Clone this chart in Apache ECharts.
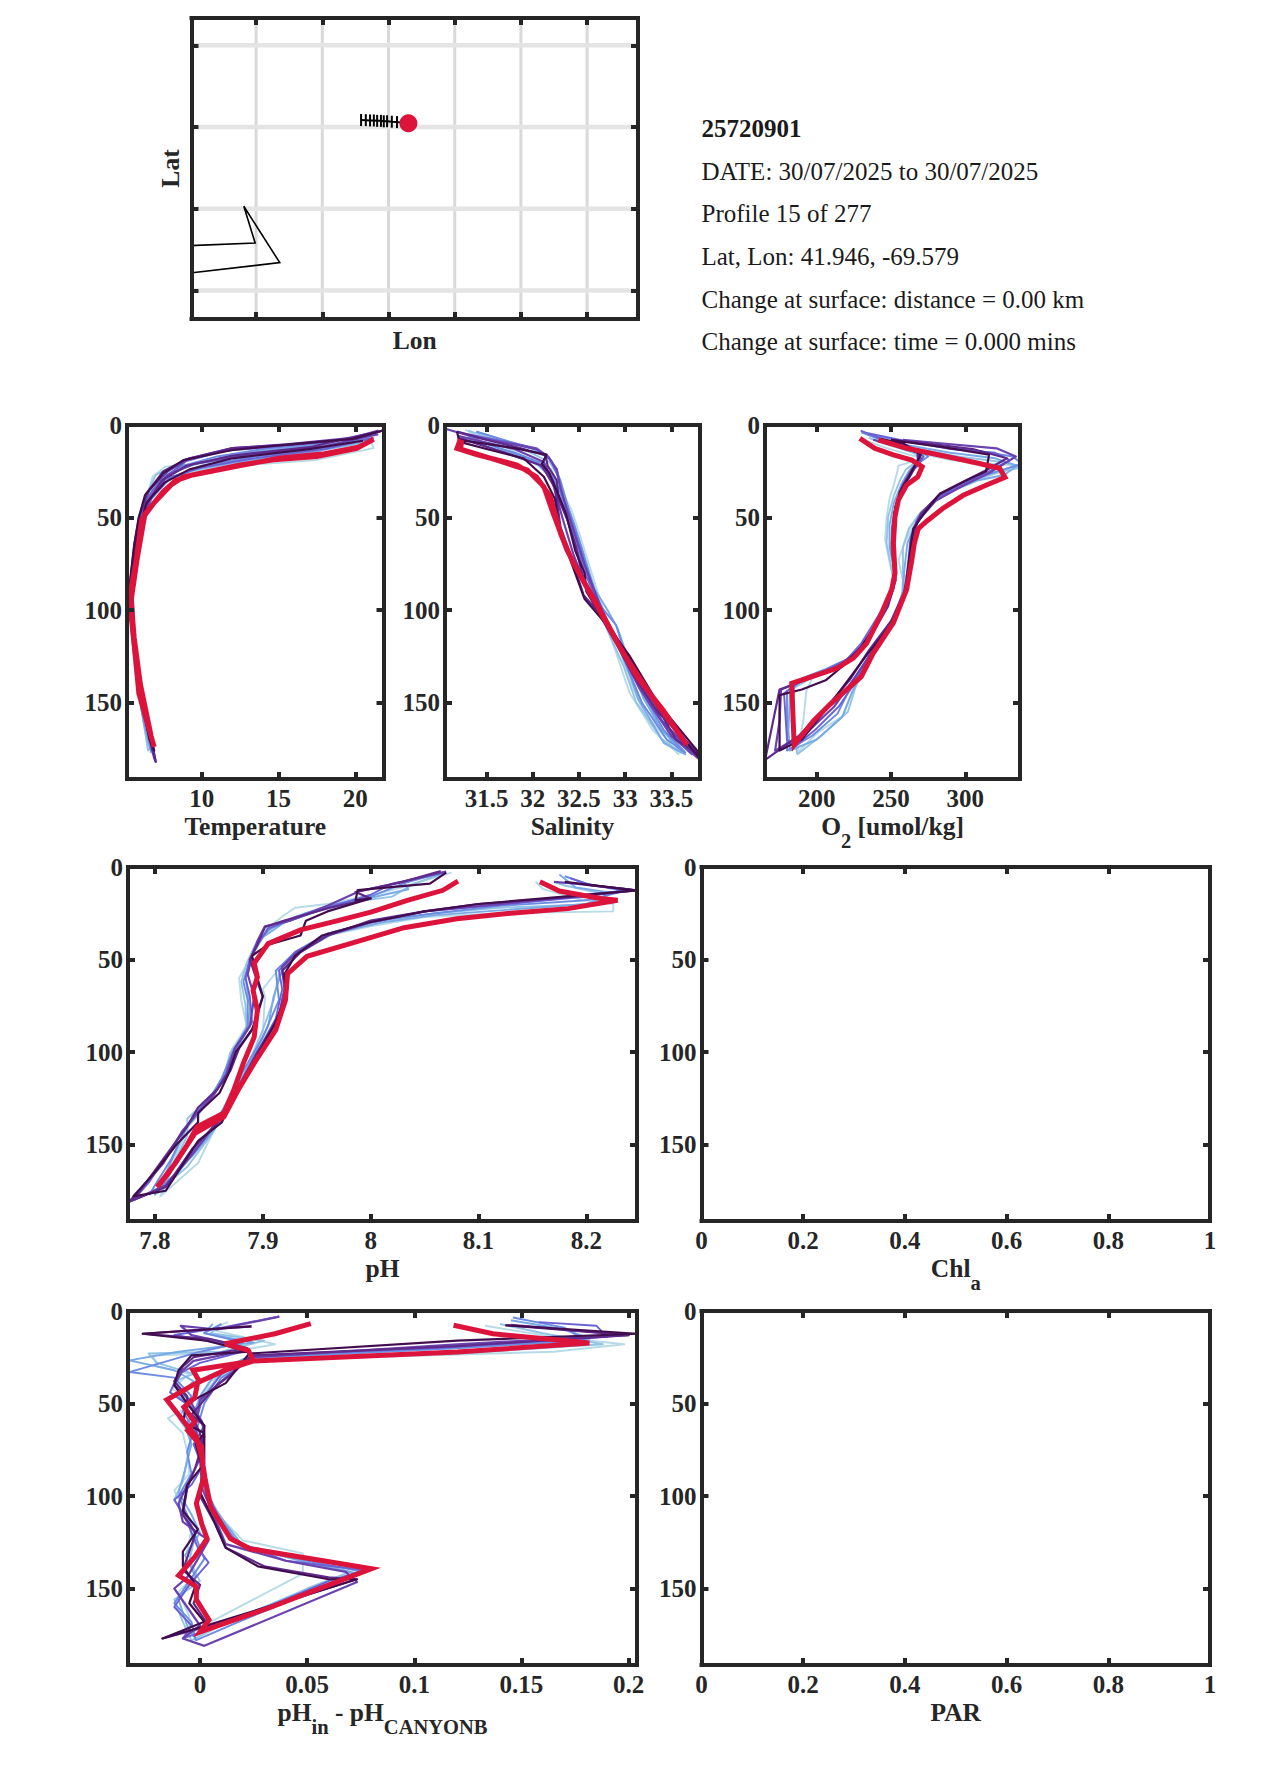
<!DOCTYPE html>
<html><head><meta charset="utf-8">
<style>html,body{margin:0;padding:0;background:#fff}#c{width:1275px;height:1771px}</style>
<script src="https://cdn.jsdelivr.net/npm/echarts@6/dist/echarts.min.js"></script></head>
<body><div id="c"></div>
<script>
// ---------- labels ----------
const infoLines = ["25720901","DATE: 30/07/2025 to 30/07/2025","Profile 15 of 277","Lat, Lon: 41.946, -69.579","Change at surface: distance = 0.00 km","Change at surface: time = 0.000 mins"];
const depthTicks = [0,50,100,150];
const tempTicks = [10,15,20];
const salTicks = [31.5,32,32.5,33,33.5];
const o2Ticks = [200,250,300];
const phTicks = [7.8,7.9,8,8.1,8.2];
const dphTicks = [0,0.05,0.1,0.15,0.2];
const unitTicks = [0,0.2,0.4,0.6,0.8,1];
const profileColors = ["#b7dbe6","#93c4e6","#79aae6","#6c8ce2","#6a62d4","#6a42ae","#5f2a8c","#420d4f"];
const lastColor = "#dc143c";
// ---------- map ----------
const gridLon = [-72.8,-71.4,-70,-68.6,-67.2,-65.8];
const gridLat = [42.9,41.9,40.9,39.9];
const coastLon = [-75,-72.82,-73.06,-72.3,-75];
const coastLat = [40.43,40.48,40.93,40.24,40.06];
const trackLon = [-70.58,-70.48,-70.39,-70.31,-70.24,-70.16,-70.1,-70.03,-69.93,-69.82,-69.69,-69.579];
const trackLat = [41.985,41.984,41.98,41.98,41.975,41.975,41.97,41.97,41.965,41.96,41.95,41.946];
// ---------- temperature [value, depth] ----------
const tempP1=[[20.9,7],[21.2,12.5],[17.4,19],[12.8,21.8],[9.4,25],[7.6,30],[6.6,38],[6,50],[5.6,75],[5.3,95],[5.4,110],[5.6,130],[6,150],[6.6,175],[6.3,165],[5.8,135],[5.4,105],[5.5,85],[5.9,62],[6.3,42],[6.8,28],[7.6,22.5],[9.5,21],[13,16],[17,12.5],[20.9,7]];
const tempP2=[[20.7,6],[18,11],[14,15],[10.5,20],[8,23],[7,27],[6.5,36],[6,50],[5.6,72],[5.3,96],[5.5,115],[5.7,135],[6.1,155],[6.5,176],[6.8,172],[5.9,140],[5.5,110],[5.5,88],[6,60],[6.5,42],[7.3,31],[9,25],[12,21],[16,16],[20.4,10]];
const tempP3=[[20.6,6],[17,11],[13,15],[10,20],[8.2,25],[7.2,31],[6.4,41],[5.9,52],[5.6,75],[5.3,95],[5.5,118],[5.8,140],[6.2,160],[6.7,177],[6.4,165],[5.9,143],[5.6,120],[5.5,90],[6,58],[6.7,40],[7.6,30],[9.5,24],[13,19],[17,15],[20.5,9]];
const tempP4=[[21,5],[18,9.5],[14,13],[11,17],[8.8,22],[7.5,28],[6.6,38],[6.1,49],[5.7,70],[5.3,92],[5.4,110],[5.7,132],[6.1,155],[6.7,176],[6.9,176],[6,145],[5.5,110],[5.5,86],[5.9,60],[6.6,41],[7.8,30],[10,22],[13.5,17],[17.5,13],[21,7]];
const tempP5=[[21.2,4],[19,8],[15,11.5],[11.5,14],[9,19.5],[7.8,27],[6.8,35],[6.2,45],[5.7,68],[5.3,92],[5.4,108],[5.7,130],[6.1,152],[6.8,176],[6.9,178],[6.1,147],[5.6,115],[5.5,88],[5.9,58],[6.8,38],[8,28],[10,23],[13,18.5],[18,13],[21.2,7]];
const tempP6=[[21.5,3],[19.8,7],[15.5,10.5],[12,12.5],[9.2,18],[7.8,25],[6.6,35],[6,48],[5.6,68],[5.3,90],[5.4,108],[5.7,130],[6.2,155],[6.9,178],[7,182],[6.2,150],[5.6,118],[5.5,90],[5.9,58],[6.6,40],[7.8,27],[9.5,21],[13,16],[18,11.5],[21.5,5]];
const tempP7=[[21.8,3],[20,7.5],[16,10.5],[12,12.5],[9,18.5],[7.5,25],[6.4,37],[5.9,50],[5.6,65],[5.3,88],[5.4,106],[5.7,130],[6.2,155],[6.9,180],[7,182],[6.2,150],[5.6,115],[5.4,92],[5.7,70],[6.3,44],[7.4,30],[9,22],[12,16.5],[17,12],[21.8,3]];
const tempP8=[[21.8,3],[19.8,7.5],[15,11],[12,13.5],[8.8,19],[7.5,26],[6.3,38],[5.9,50],[5.6,65],[5.25,90],[5.4,106],[5.7,130],[6.2,155],[6.9,176],[6.6,170],[5.9,140],[5.4,100],[5.4,85],[5.8,62],[6.4,42],[7.6,31],[9.2,24],[12,18],[17,13],[20.5,8.5]];
const tempLast=[[21.2,7.7],[20.1,12.6],[17.5,17],[14.7,18.8],[12.5,21.6],[9.9,26],[8.8,28],[8,32.4],[6.9,42],[6.1,51],[5.7,74.6],[5.3,92.5],[5.4,103],[5.7,127],[5.9,145],[6.9,174],[6.7,168],[6,140],[5.6,115],[5.4,95],[5.8,72],[6.3,48],[7.5,36],[8.3,30],[9.4,27],[12.6,21.8],[15,18],[18,15.5],[20.2,12],[21.2,7.7]];
// ---------- salinity ----------
const salP1=[[31.27,2.5],[31.4,6],[31.7,12],[32,19],[32.2,24],[32.3,34],[32.42,46],[32.5,58],[32.6,74],[32.7,90],[32.78,102],[32.95,122],[33.02,135],[33.2,155],[33.58,178],[33.3,165],[33.05,145],[32.88,120],[32.7,96],[32.6,80],[32.48,62],[32.38,45],[32.26,30],[32,20],[31.7,15],[31.3,8]];
const salP2=[[31.3,3],[31.6,8],[31.9,13],[32.18,20],[32.28,28],[32.36,42],[32.46,55],[32.56,72],[32.68,90],[32.8,105],[32.92,118],[33.02,132],[33.2,152],[33.6,177],[33.4,170],[33.12,150],[32.98,130],[32.8,110],[32.65,88],[32.52,70],[32.42,55],[32.34,40],[32.22,28],[32,19],[31.6,12],[31.3,6]];
const salP3=[[31.39,3.6],[31.6,7],[32,13],[32.18,18],[32.26,24],[32.32,36],[32.42,50],[32.54,68],[32.66,88],[32.82,101],[32.92,110],[33.03,126],[33.2,148],[33.4,165],[33.65,178],[33.42,172],[33.14,148],[33,128],[32.8,105],[32.66,90],[32.5,68],[32.4,52],[32.3,36],[32.1,22],[31.7,14],[31.39,8]];
const salP4=[[31.39,3.6],[31.75,9],[32.04,13],[32.2,19],[32.3,30],[32.38,44],[32.5,62],[32.62,82],[32.72,97],[32.9,108],[33,124],[33.2,146],[33.42,165],[33.65,177],[33.45,170],[33.18,150],[33,128],[32.82,108],[32.65,88],[32.48,68],[32.38,50],[32.28,34],[32.12,21],[31.8,15],[31.3,7]];
const salP5=[[31.2,4],[31.6,8],[32.04,12.5],[32.17,17],[32.26,26],[32.32,38],[32.42,52],[32.52,68],[32.63,86],[32.74,98],[32.88,115],[33.05,132],[33.25,150],[33.5,168],[33.72,178],[33.4,160],[33.16,138],[32.96,120],[32.76,102],[32.58,82],[32.46,65],[32.34,46],[32.22,30],[32.06,21],[31.7,15],[31.22,7]];
const salP6=[[31.07,2.3],[31.4,7],[31.8,10.5],[32.04,13],[32.17,17.5],[32.26,24],[32.3,34],[32.37,46],[32.46,60],[32.55,74],[32.67,90],[32.76,102],[32.95,122],[33.15,142],[33.4,160],[33.81,181],[33.5,168],[33.2,145],[32.98,122],[32.76,102],[32.58,88],[32.44,70],[32.32,50],[32.22,32],[32.12,20],[31.8,13],[31.2,6]];
const salP7=[[31.18,3.5],[31.5,8],[31.9,13],[32.14,16.5],[32.16,22],[32.26,30],[32.28,40],[32.38,52],[32.47,66],[32.52,78],[32.6,90],[32.74,104],[32.9,118],[33.1,136],[33.35,155],[33.8,178],[33.55,170],[33.2,140],[33,122],[32.78,105],[32.55,92],[32.42,72],[32.3,55],[32.24,34],[32.1,22],[31.7,15],[31.2,7]];
const salP8=[[31.18,3.5],[31.2,8],[31.8,12.5],[32.15,16],[32.1,21],[32.18,26],[32.28,38],[32.36,48],[32.46,68],[32.56,80],[32.58,90],[32.7,100],[32.85,112],[33,125],[33.2,138],[33.4,155],[33.8,180],[33.78,176],[33.35,150],[33.05,125],[32.8,108],[32.56,94],[32.4,72],[32.3,60],[32.24,40],[32.12,28],[31.9,18],[31.5,13],[31.2,9]];
const salLast=[[31.215,7.7],[31.18,12.6],[31.4,16.2],[31.83,21.6],[32.04,28],[32.19,38.7],[32.3,58.6],[32.44,74.8],[32.69,96.4],[32.98,123.4],[33.34,150.5],[33.67,173],[33.41,154],[33.125,136],[32.84,110.8],[32.58,87.4],[32.37,67.6],[32.22,47.7],[32.12,33.3],[31.94,24.3],[31.61,19],[31.22,13],[31.23,8.1]];
// ---------- oxygen ----------
const o2P1=[[232,8],[245,12],[262,16],[272,18],[255,22],[254,26],[252,32],[249,40],[247,50],[246,62],[249,74],[252,84],[248,94],[240,106],[232,118],[222,127],[210,132],[197,137],[193,144],[191,160],[187,177],[201,166],[218,157],[223,146],[231,133],[238,124],[250,108],[257,95],[258,84],[255,73],[259,64],[263,57],[270,48],[282,40],[300,32],[318,27],[336,22],[320,21],[290,19],[262,14],[240,9]];
const o2P2=[[235,7],[250,11],[265,15],[270,18],[260,24],[256,30],[252,38],[248,50],[247,64],[250,76],[252,86],[246,100],[236,114],[226,125],[212,132],[198,136],[185,142],[183,160],[187,178],[203,168],[221,155],[226,142],[233,130],[243,118],[254,102],[258,90],[258,78],[258,66],[262,56],[270,47],[284,38],[302,31],[320,26],[337,23],[325,20],[295,17],[262,12],[238,8]];
const o2P3=[[240,6],[255,11],[272,15],[268,19],[262,25],[257,32],[252,42],[249,54],[249,66],[252,78],[252,88],[245,102],[235,116],[223,127],[205,133],[190,138],[182,144],[181,165],[182,176],[200,170],[217,158],[224,144],[232,130],[242,118],[252,104],[258,90],[259,78],[261,64],[266,54],[276,43],[290,36],[308,30],[326,27],[335,22],[320,18],[290,15],[262,11],[240,7]];
const o2P4=[[230,4],[250,10],[270,14],[275,17],[266,22],[260,30],[255,40],[251,52],[250,66],[252,78],[252,88],[244,102],[233,116],[222,126],[206,132],[190,137],[180,144],[180,162],[180,176],[197,168],[214,156],[222,143],[230,132],[240,120],[251,106],[259,92],[261,78],[263,62],[268,50],[280,40],[296,33],[314,27],[338,21],[332,17],[300,13],[268,10],[240,6]];
const o2P5=[[229.6,3],[248,9],[265,14],[272,17],[268,22],[262,27],[257,34],[253,44],[251,56],[251,70],[253,82],[250,92],[240,105],[230,118],[220,127],[205,133],[188,139],[178,145],[180,170],[185,174],[200,164],[215,152],[226,139],[235,125],[245,112],[255,100],[261,86],[263,70],[267,52],[280,40],[298,32],[316,25],[330,19],[320,15],[290,13],[262,9],[232,4]];
const o2P6=[[238,8],[252,11],[268,15],[270,18],[264,24],[258,32],[254,42],[251,55],[251,70],[253,84],[248,96],[238,110],[228,122],[215,130],[198,136],[176,143],[175,160],[172,176],[195,165],[212,152],[226,136],[236,124],[248,110],[258,94],[262,80],[263,64],[268,52],[280,41],[298,33],[316,26],[334,17],[321,12.6],[285,10],[258,8]];
const o2P7=[[243,8],[258,10],[268,14],[268,20],[264,26],[258,34],[253,44],[252,58],[252,72],[253,84],[248,98],[238,112],[226,124],[212,132],[195,137],[175,143],[165.3,181],[188,168],[205,154],[222,138],[235,122],[250,106],[259,90],[262,74],[264,60],[270,48],[282,38],[298,31],[314,24.5],[328,18],[305,13],[275,10],[250,8]];
const o2P8=[[243,7.5],[258,10],[270,16],[266,22],[262,28],[256,36],[252,48],[252,64],[253,80],[250,92],[240,108],[230,120],[218,130],[206,138],[190,143],[175,146],[175,176],[190,170],[207,153],[222,137],[234,124],[250,108],[260,90],[262,74],[265,56],[272,48],[283,37],[298,31],[314,25],[316,16],[285,12],[250,8]];
const o2Last=[[229,7.2],[239,12.6],[251.6,16.2],[264,19],[271,22.5],[268,28],[260.5,32.4],[255,40.5],[252.7,49.5],[251.6,64],[252.7,80],[250.4,89],[242.6,103.6],[233.6,118],[224.7,126],[213.5,131.5],[197.8,135.7],[183.2,139.6],[184.8,173],[197.8,160],[209,151],[230,136],[238,123.4],[251.6,107],[260.5,89],[264,73],[265.7,64],[268.4,56],[274,52],[285,45],[298.6,38],[314.3,32.4],[326.7,28.3],[323,23.4],[308.7,20.7],[287.4,17],[260.5,12.6],[241.5,8]];
// ---------- pH ----------
const phP1=[[8.075,3],[8.035,10],[8.01,14],[7.96,20],[7.93,22],[7.92,26],[7.9,35],[7.89,48],[7.878,60],[7.88,72],[7.885,86],[7.872,98],[7.866,112],[7.856,122],[7.835,134],[7.83,142],[7.82,155],[7.81,172],[7.805,178],[7.84,160],[7.855,142],[7.87,130],[7.885,112],[7.9,90],[7.902,70],[7.9,66],[7.915,55],[7.93,46],[7.96,37],[8.0,32],[8.05,27],[8.12,25],[8.225,24],[8.225,20],[8.19,17],[8.16,12],[8.153,8]];
const phP2=[[8.07,3],[8.04,9],[8.02,16],[7.97,20],[7.94,25],[7.91,32],[7.893,42],[7.885,52],[7.88,62],[7.884,75],[7.885,88],[7.87,100],[7.863,115],[7.85,125],[7.83,136],[7.83,145],[7.818,160],[7.808,174],[7.8,177],[7.83,162],[7.852,145],[7.866,130],[7.884,110],[7.9,88],[7.91,72],[7.915,58],[7.93,48],[7.955,38],[8.0,30],[8.06,25],[8.12,22],[8.21,20],[8.22,15],[8.18,10],[8.17,8]];
const phP3=[[8.065,4],[8.03,8],[8.035,12],[7.99,18],[7.95,24],[7.92,30],[7.9,38],[7.888,50],[7.884,60],[7.888,76],[7.886,88],[7.874,100],[7.865,112],[7.855,122],[7.84,134],[7.828,142],[7.816,158],[7.805,172],[7.8,177],[7.835,156],[7.855,142],[7.87,126],[7.888,106],[7.905,86],[7.91,70],[7.918,56],[7.935,46],[7.965,36],[8.01,30],[8.06,26],[8.13,23],[8.2,20],[8.225,14],[8.19,11],[8.175,4]];
const phP4=[[8.065,3],[8.03,9],[8.0,16],[7.96,21],[7.93,27],[7.905,34],[7.892,44],[7.886,54],[7.882,62],[7.886,72],[7.886,86],[7.872,100],[7.862,114],[7.852,124],[7.838,134],[7.83,140],[7.815,158],[7.8,172],[7.795,177],[7.82,166],[7.848,146],[7.864,130],[7.88,112],[7.9,92],[7.915,72],[7.912,56],[7.93,46],[7.96,36],[8.005,29],[8.06,25],[8.12,21],[8.2,18],[8.235,13],[8.2,9],[8.18,5]];
const phP5=[[8.07,2.5],[8.02,9],[8.0,15],[7.96,22],[7.93,28],[7.905,33],[7.895,42],[7.888,50],[7.884,60],[7.888,70],[7.89,84],[7.875,98],[7.868,110],[7.858,120],[7.84,132],[7.83,140],[7.812,155],[7.795,170],[7.78,180],[7.812,172],[7.84,150],[7.862,135],[7.876,120],[7.895,100],[7.912,82],[7.918,66],[7.915,56],[7.93,46],[7.96,36],[8.0,30],[8.05,24],[8.11,21],[8.2,16],[8.24,12],[8.205,10],[8.185,6]];
const phP6=[[8.07,2.5],[8.03,8],[7.99,13],[7.96,21],[7.925,29],[7.902,32],[7.895,40],[7.89,48],[7.886,58],[7.892,70],[7.888,86],[7.874,98],[7.866,112],[7.855,123],[7.838,134],[7.825,143],[7.808,160],[7.79,172],[7.776,181],[7.81,172],[7.835,155],[7.86,136],[7.878,118],[7.898,98],[7.915,80],[7.92,66],[7.918,54],[7.932,46],[7.96,37],[8.0,30],[8.05,24],[8.12,20],[8.2,15],[8.246,12.6],[8.19,9],[8.17,8]];
const phP7=[[8.065,2.2],[8.03,8],[7.986,13.5],[8.0,17],[7.962,22],[7.92,29],[7.902,32.4],[7.895,42],[7.888,50],[7.895,62],[7.9,70],[7.892,86],[7.878,98],[7.87,110],[7.858,120],[7.84,130],[7.83,140],[7.81,156],[7.785,176],[7.776,181],[7.81,173],[7.835,152],[7.862,136],[7.875,122],[7.895,100],[7.912,84],[7.922,68],[7.918,56],[7.935,46],[7.96,37],[8.0,29],[8.05,24],[8.1,20],[8.19,16],[8.246,12.6],[8.2,9.5]];
const phP8=[[8.07,3],[8.055,9],[7.988,12.5],[7.986,18],[8.0,17],[7.96,24],[7.94,29],[7.935,37],[7.905,42],[7.89,48],[7.895,60],[7.9,70],[7.89,88],[7.875,100],[7.868,112],[7.86,122],[7.84,133],[7.84,138],[7.82,150],[7.8,165],[7.78,178],[7.81,175],[7.84,148],[7.862,138],[7.875,122],[7.895,102],[7.91,86],[7.922,70],[7.92,58],[7.93,48],[7.955,37],[7.998,30],[8.05,24],[8.1,20],[8.19,15.5],[8.246,12.6],[8.18,8]];
const phLast=[[8.081,7.6],[8.067,12.6],[8.034,18],[8.001,24.3],[7.965,29.7],[7.935,34],[7.905,41.4],[7.892,52],[7.895,59.5],[7.891,66.7],[7.895,77.5],[7.892,92],[7.882,106],[7.873,120.7],[7.864,133],[7.839,140.5],[7.829,151],[7.812,166],[7.802,173],[7.819,160],[7.837,144],[7.864,135],[7.877,120.7],[7.892,106],[7.912,88],[7.921,72],[7.923,57.7],[7.941,48.3],[7.981,41.4],[8.031,32.8],[8.08,28],[8.13,25],[8.183,22.5],[8.229,18],[8.213,17],[8.175,13],[8.157,8]];
// ---------- pH difference ----------
const dpP1=[[0.013,6],[0.005,10],[0.02,14],[0.035,18],[0.01,23],[-0.022,24],[-0.02,30],[-0.005,34],[-0.013,42],[-0.003,50],[-0.015,58],[-0.008,66],[-0.006,76],[-0.005,88],[-0.012,97],[-0.008,106],[-0.004,118],[-0.006,130],[-0.002,142],[-0.01,152],[-0.005,165],[-0.005,175],[0.005,168],[0.048,142],[0.048,131],[0.02,124],[0.01,112],[0.003,98],[0.001,82],[-0.003,68],[-0.002,52],[0.005,38],[0.02,27],[0.165,22],[0.198,18],[0.165,14],[0.133,8]];
const dpP2=[[0.01,7],[0.005,12],[0.03,16],[0.01,22],[-0.024,23],[-0.02,28],[-0.003,34],[-0.012,38],[-0.005,48],[-0.01,58],[-0.004,68],[-0.006,80],[-0.008,92],[-0.012,102],[-0.006,112],[-0.003,125],[-0.005,135],[0,146],[-0.012,156],[-0.008,168],[-0.004,178],[0.01,170],[0.05,150],[0.07,141],[0.045,133],[0.018,126],[0.008,112],[0.002,96],[0,80],[-0.003,66],[-0.001,50],[0.008,36],[0.022,26],[0.12,23],[0.188,18],[0.16,12],[0.14,7]];
const dpP3=[[0.006,7],[0.002,12],[0.025,17],[-0.01,22],[-0.033,26.7],[-0.012,32],[-0.003,38],[-0.01,46],[-0.002,54],[-0.007,62],[-0.004,72],[-0.007,86],[-0.01,98],[-0.004,110],[0,120],[-0.007,132],[-0.002,144],[-0.01,156],[-0.006,170],[-0.003,176],[0.012,168],[0.055,149],[0.074,142],[0.05,136],[0.02,127],[0.012,115],[0.003,100],[0.001,86],[0,72],[-0.004,60],[0,46],[0.007,34],[0.02,26],[0.12,20],[0.182,15],[0.17,10],[0.145,5]];
const dpP4=[[0.01,7],[0.002,12],[0.02,17],[0,22],[-0.033,33],[-0.012,36],[-0.004,46],[-0.008,54],[-0.003,64],[-0.006,76],[-0.004,88],[-0.01,100],[-0.006,110],[-0.002,122],[0.002,134],[-0.005,146],[-0.012,158],[-0.004,168],[-0.002,178],[0.018,168],[0.06,148],[0.076,141],[0.05,135],[0.018,126],[0.008,110],[0.002,96],[0.001,82],[-0.002,66],[0.002,50],[0.01,36],[0.025,25],[0.12,20],[0.18,16],[0.17,9],[0.146,3.5]];
const dpP5=[[0.037,3],[0.01,9],[-0.012,13],[0.012,18],[0.02,22],[0,28],[-0.01,34],[-0.014,44],[-0.004,52],[0.002,62],[-0.003,72],[0.001,84],[-0.004,94],[-0.012,102],[-0.006,114],[-0.001,128],[0.004,136],[-0.005,148],[-0.012,160],[-0.004,170],[-0.008,177],[0.015,168],[0.06,146],[0.077,140],[0.04,135],[0.015,124],[0.008,110],[0.002,94],[0,78],[-0.003,64],[0.001,48],[0.01,34],[0.025,24],[0.11,20],[0.19,14],[0.185,8],[0.158,6]];
const dpP6=[[0.037,3],[0.008,10],[-0.009,8],[-0.004,13],[0.012,17],[0.022,21],[-0.003,27],[-0.008,32],[-0.012,40],[-0.005,48],[0.001,60],[0.002,68],[-0.001,82],[-0.006,94],[-0.01,104],[-0.008,114],[0.004,124],[-0.002,136],[-0.006,144],[-0.012,150],[-0.006,160],[0,170],[-0.008,177],[0.002,181],[0.0733,146.5],[0.068,141],[0.04,135],[0.012,126],[0.007,112],[0.001,96],[0,80],[-0.002,62],[0,48],[0.012,36],[0.024,25],[0.12,18],[0.2,13],[0.16,9],[0.145,7.5]];
const dpP7=[[0.024,8.3],[-0.0267,12.3],[0.004,15],[0.022,20],[-0.003,25],[-0.008,30],[-0.012,38],[-0.006,46],[-0.006,54],[0.002,62],[0.001,72],[-0.002,84],[-0.006,96],[-0.008,110],[-0.002,120],[-0.005,130],[-0.008,140],[0,148],[-0.003,158],[0.004,170],[-0.0175,177],[0.005,170],[0.073,145],[0.06,144],[0.03,138],[0.012,128],[0.007,115],[0,100],[0.002,82],[0,66],[-0.004,56],[0.008,40],[0.015,34],[0.024,24],[0.12,19],[0.2,13],[0.1425,7.7]];
const dpP8=[[0.024,8.3],[-0.0267,12.3],[0.003,16],[0.023,22],[-0.004,24],[-0.01,32],[-0.012,40],[-0.006,50],[-0.008,60],[0.002,66],[-0.002,72],[0.001,84],[-0.006,94],[-0.008,108],[-0.001,118],[-0.008,130],[-0.008,138],[-0.002,148],[-0.005,158],[0.002,168],[-0.0175,177],[0.003,170],[0.0733,145],[0.06,145],[0.027,138],[0.012,128],[0.006,112],[0,98],[0.002,80],[0.002,62],[-0.006,50],[0.012,39],[0.016,33],[0.023,23],[0.12,16],[0.204,12.3],[0.1425,7.7]];
const dpLast=[[0.0517,6.8],[0.035,12.3],[0.0117,17.7],[0.0225,21.3],[0.025,27],[-0.0033,32],[-0.0008,37],[-0.0025,47],[-0.0075,52],[-0.0025,60],[-0.0058,64.5],[0.0008,73.5],[0.0017,90],[-0.0017,104],[0.0008,115],[0.0033,123],[-0.0025,133],[-0.01,143],[-0.0017,149],[-0.0017,156],[0.0042,167],[0,173.5],[0.0333,160],[0.08,139.3],[0.0233,128.5],[0.0142,123],[0.005,106],[0.0025,91.5],[0.0008,79],[-0.0017,68],[-0.0067,61],[-0.0155,48],[-0.0017,39],[0.0117,32],[0.025,27],[0.12,22.2],[0.1817,17.3],[0.1367,12.3],[0.1183,7.7]];

const tempProfiles=[tempP1,tempP2,tempP3,tempP4,tempP5,tempP6,tempP7,tempP8];
const salProfiles=[salP1,salP2,salP3,salP4,salP5,salP6,salP7,salP8];
const o2Profiles=[o2P1,o2P2,o2P3,o2P4,o2P5,o2P6,o2P7,o2P8];
const phProfiles=[phP1,phP2,phP3,phP4,phP5,phP6,phP7,phP8];
const dpProfiles=[dpP1,dpP2,dpP3,dpP4,dpP5,dpP6,dpP7,dpP8];

const SERIF='"Liberation Serif","Times New Roman",serif', INK='#262626';
const nameStyle={fontFamily:SERIF,fontWeight:'bold',fontSize:25.5,color:INK,
  rich:{b:{fontFamily:SERIF,fontWeight:'bold',fontSize:25.5,color:INK,verticalAlign:'top'},
        s:{fontFamily:SERIF,fontWeight:'bold',fontSize:20.5,color:INK,verticalAlign:'bottom',padding:[17,0,0,0]}}};
const DMAX=191.35;
const panels=[
 {box:[127,383.5,425,779],x:[5.13,21.84],xt:tempTicks,name:'Temperature',gap:34,prof:tempProfiles,last:tempLast},
 {box:[445,700,425,779],x:[31.05,33.81],xt:salTicks,name:'Salinity',gap:34,prof:salProfiles,last:salLast},
 {box:[765,1020,425,779],x:[165.2,336.8],xt:o2Ticks,name:'{b|O}{s|2}{b| [umol/kg]}',gap:34,prof:o2Profiles,last:o2Last},
 {box:[128,637,867,1221],x:[7.775,8.247],xt:phTicks,name:'pH',gap:34,prof:phProfiles,last:phLast},
 {box:[701.5,1210,867,1221],x:[0,1],xt:unitTicks,name:'{b|Chl}{s|a}',gap:34,prof:[],last:null},
 {box:[128,637,1311,1665],x:[-0.0336,0.2039],xt:dphTicks,name:'{b|pH}{s|in}{b| - pH}{s|CANYONB}',gap:34,prof:dpProfiles,last:dpLast},
 {box:[701.5,1210,1311,1665],x:[0,1],xt:unitTicks,name:'PAR',gap:34,prof:[],last:null}
];
const grid=[],xAxis=[],yAxis=[],series=[];
function frameLine(){return {show:true,onZero:false,lineStyle:{color:INK,width:4,cap:'square'}};}
function addGrid(box,xr,yr,xt,yt,xname,yname,gap,inv,labels){
  const g=grid.length;
  grid.push({left:box[0],width:box[1]-box[0],top:box[2],height:box[3]-box[2],containLabel:false});
  const tick=(v)=>({show:true,inside:true,length:7,customValues:v,lineStyle:{color:INK,width:4}});
  const lab=(v,m)=>({show:labels,customValues:v,margin:m,fontFamily:SERIF,fontWeight:'bold',fontSize:25,color:INK,hideOverlap:false,showMinLabel:true,showMaxLabel:true,formatter:(x)=>String(x)});
  xAxis.push({type:'value',gridIndex:g,position:'bottom',min:xr[0],max:xr[1],z:6,splitLine:{show:false},axisLine:frameLine(),axisTick:tick(xt),axisLabel:lab(xt,7),
     name:xname,nameLocation:'middle',nameGap:gap,nameMoveOverlap:false,nameTextStyle:nameStyle});
  xAxis.push({type:'value',gridIndex:g,position:'top',min:xr[0],max:xr[1],z:6,splitLine:{show:false},axisLine:frameLine(),axisTick:tick(xt),axisLabel:{show:false}});
  yAxis.push({type:'value',gridIndex:g,position:'left',inverse:inv,min:yr[0],max:yr[1],z:6,splitLine:{show:false},axisLine:frameLine(),axisTick:tick(yt),axisLabel:lab(yt,5),
     name:yname,nameLocation:'middle',nameGap:8,nameMoveOverlap:false,nameTextStyle:nameStyle});
  yAxis.push({type:'value',gridIndex:g,position:'right',inverse:inv,min:yr[0],max:yr[1],z:6,splitLine:{show:false},axisLine:frameLine(),axisTick:tick(yt),axisLabel:{show:false}});
  return 2*g;
}
// map panel
const mapXR=[-74.166,-64.724], mapYR=[39.55,43.234];
const mi=addGrid([191.5,638,18,319],mapXR,mapYR,gridLon,gridLat,'Lon','Lat',8,false,false);
gridLon.forEach(v=>series.push({type:'line',xAxisIndex:mi,yAxisIndex:mi,silent:true,symbol:'none',z:1,lineStyle:{color:'#d9d9d9',width:3},data:[[v,mapYR[0]],[v,mapYR[1]]]}));
gridLat.forEach(v=>series.push({type:'line',xAxisIndex:mi,yAxisIndex:mi,silent:true,symbol:'none',z:1,lineStyle:{color:'#e4e4e4',width:4.5},data:[[mapXR[0],v],[mapXR[1],v]]}));
series.push({type:'line',xAxisIndex:mi,yAxisIndex:mi,silent:true,symbol:'none',clip:true,z:2,lineStyle:{color:'#000',width:1.6,join:'miter'},data:coastLon.map((v,i)=>[v,coastLat[i]])});
series.push({type:'line',xAxisIndex:mi,yAxisIndex:mi,silent:true,symbol:'rect',symbolSize:[2,12],showAllSymbol:true,z:3,itemStyle:{color:'#000'},lineStyle:{color:'#000',width:2},data:trackLon.map((v,i)=>[v,trackLat[i]])});
series.push({type:'scatter',xAxisIndex:mi,yAxisIndex:mi,silent:true,symbol:'circle',symbolSize:18,z:4,itemStyle:{color:lastColor,opacity:1},data:[[trackLon[trackLon.length-1],trackLat[trackLat.length-1]]]});
// profile panels
panels.forEach(p=>{
  const a=addGrid(p.box,p.x,[0,DMAX],p.xt,depthTicks,p.name,'',p.gap,true,true);
  p.prof.forEach((d,i)=>series.push({type:'line',xAxisIndex:a,yAxisIndex:a,silent:true,symbol:'none',clip:true,z:2,lineStyle:{color:profileColors[i],width:i>4?2.2:1.9,join:'round'},data:d}));
  if(p.last)series.push({type:'line',xAxisIndex:a,yAxisIndex:a,silent:true,symbol:'none',clip:true,z:3,lineStyle:{color:lastColor,width:5,join:'miter'},data:p.last});
});
const infoY=[128,171,213,256,299,341];
const graphic=infoLines.map((t,i)=>({type:'text',x:701.5,y:infoY[i],style:{text:t,fontFamily:SERIF,fontSize:25,fontWeight:i===0?'bold':'normal',fill:'#1a1a1a',verticalAlign:'middle',align:'left'}}));
const chart=echarts.init(document.getElementById('c'),null,{renderer:'svg',width:1275,height:1771});
chart.setOption({animation:false,backgroundColor:'#fff',tooltip:{show:false},grid,xAxis,yAxis,series,graphic});
</script></body></html>
